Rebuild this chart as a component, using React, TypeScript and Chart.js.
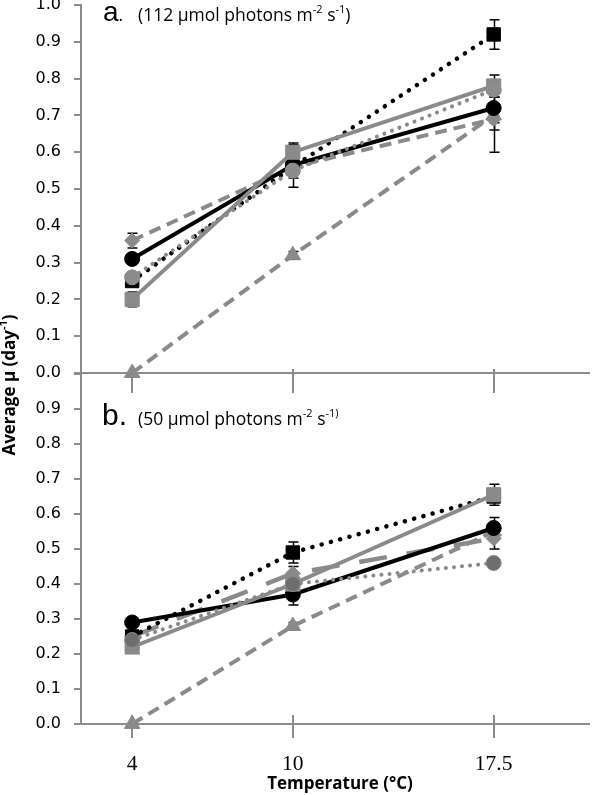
import React, { useEffect, useRef } from 'react';
import { Chart, registerables } from 'chart.js';

Chart.register(...registerables);

// ---------- data ----------
const temperatures = [4, 10, 17.5];
const temperatureLabels = ['4', '10', '17.5'];
const xMin = 2.09;
const xMax = 21.06;
const yMin = 0;
const yMax = 1.0;
const yStep = 0.1;

// panel a (112 µmol photons)
const aBlackCircle = [0.31, 0.565, 0.72];
const aBlackCircleErr = [0.01, 0.06, 0.06];
const aBlackSquare = [0.25, 0.56, 0.92];
const aBlackSquareErr = [0.015, 0.02, 0.04];
const aGraySquare = [0.2, 0.6, 0.78];
const aGraySquareErr = [0.02, 0.02, 0.03];
const aGrayCircle = [0.26, 0.55, 0.77];
const aGrayCircleErr = [0.01, 0.02, 0.02];
const aDiamond = [0.36, 0.56, 0.69];
const aDiamondErr = [0.02, 0.02, 0.09];
const aTriangle = [0.0, 0.32, 0.7];
const aTriangleErr = [0, 0.01, 0.02];

// panel b (50 µmol photons)
const bBlackCircle = [0.29, 0.37, 0.56];
const bBlackCircleErr = [0.01, 0.03, 0.03];
const bBlackSquare = [0.25, 0.49, 0.65];
const bBlackSquareErr = [0.01, 0.03, 0.01];
const bGraySquare = [0.22, 0.4, 0.655];
const bGraySquareErr = [0.01, 0.02, 0.03];
const bDiamond = [0.25, 0.43, 0.53];
const bDiamondErr = [0.01, 0.02, 0.03];
const bGrayCircle = [0.24, 0.4, 0.46];
const bGrayCircleErr = [0.01, 0.01, 0.01];
const bTriangle = [0.0, 0.28, 0.55];
const bTriangleErr = [0, 0.01, 0.01];

// texts
const panelALetter = 'a';
const panelAText = '(112 μmol photons m';
const panelBLetter = 'b';
const panelBText = '(50 μmol photons m';
const unitSup1 = '-2';
const unitMid = ' s';
const unitSup2 = '-1';
const yTitleMain = 'Average μ (day';
const yTitleSup = '-1';
const yTitleEnd = ')';
const xTitle = 'Temperature (°C)';

// ---------- styles ----------
const GRAY = '#8a8a8a';
const AXIS = '#8c8c8c';

function series(values: number[], errors: number[], style: any) {
  return {
    data: temperatures.map((t, i) => ({ x: t, y: values[i] })),
    errors,
    borderColor: style.color,
    borderWidth: style.width,
    borderDash: style.dash || [],
    borderCapStyle: style.cap || 'butt',
    pointStyle: style.point,
    pointRadius: style.radius,
    pointHoverRadius: style.radius,
    pointBackgroundColor: style.fill,
    pointBorderColor: style.pbColor || style.fill,
    pointBorderWidth: 1,
    tension: 0,
    fill: false,
    clip: false,
  };
}

const stBlackCircle = { color: '#000', width: 4, point: 'circle', radius: 7.5, fill: '#000' };
const stBlackSquare = { color: '#000', width: 4.5, dash: [0.1, 9.5], cap: 'round', point: 'rect', radius: 9.5, fill: '#000' };
const stGraySquare = { color: GRAY, width: 4, point: 'rect', radius: 10, fill: GRAY };
const stDiamondA = { color: GRAY, width: 4, dash: [12, 7], point: 'rectRot', radius: 7.5, fill: GRAY };
const stDiamondB = { color: GRAY, width: 4.5, dash: [28, 20], point: 'rectRot', radius: 7.5, fill: GRAY };
const stTriangle = { color: GRAY, width: 4, dash: [12, 7], point: 'triangle', radius: 9, fill: GRAY };
const stGrayCircleA = { color: GRAY, width: 4, dash: [0.1, 8], cap: 'round', point: 'circle', radius: 7.5, fill: '#8c8c8c' };
const stGrayCircleB = { color: GRAY, width: 4, dash: [0.1, 8], cap: 'round', point: 'circle', radius: 7.5, fill: '#6e6e6e', pbColor: '#8c8c8c' };

// ---------- plugins ----------
const errorBarPlugin = {
  id: 'errorBars',
  beforeDatasetsDraw(chart: any) {
    const { ctx } = chart;
    const xs = chart.scales.x;
    const ys = chart.scales.y;
    ctx.save();
    ctx.strokeStyle = '#000';
    ctx.lineWidth = 1.5;
    chart.data.datasets.forEach((ds: any) => {
      const errs = ds.errors;
      if (!errs) return;
      ds.data.forEach((p: any, i: number) => {
        const e = errs[i];
        if (!e) return;
        const x = Math.round(xs.getPixelForValue(p.x)) + 0.5;
        const y1 = ys.getPixelForValue(p.y - e);
        const y2 = ys.getPixelForValue(p.y + e);
        ctx.beginPath();
        ctx.moveTo(x, y1);
        ctx.lineTo(x, y2);
        ctx.moveTo(x - 5, y1);
        ctx.lineTo(x + 5, y1);
        ctx.moveTo(x - 5, y2);
        ctx.lineTo(x + 5, y2);
        ctx.stroke();
      });
    });
    ctx.restore();
  },
};

function crossTickPlugin(up: number, down: number) {
  return {
    id: 'crossTicks',
    beforeDatasetsDraw(chart: any) {
      const { ctx, chartArea } = chart;
      const xs = chart.scales.x;
      const y0 = chartArea.bottom + 1;
      ctx.save();
      ctx.strokeStyle = AXIS;
      ctx.lineWidth = 2;
      temperatures.forEach((t) => {
        const x = Math.round(xs.getPixelForValue(t));
        ctx.beginPath();
        ctx.moveTo(x, y0 - up);
        ctx.lineTo(x, y0 + down);
        ctx.stroke();
      });
      ctx.restore();
    },
  };
}

type Run = { text: string; size: number; family?: string; weight?: string; raise?: number; x?: number };

function drawRuns(ctx: CanvasRenderingContext2D, x: number, y: number, runs: Run[]) {
  let cx = x;
  for (const r of runs) {
    if (r.x !== undefined) cx = r.x;
    ctx.font = `${r.weight || 'normal'} ${r.size}px ${r.family || '"Open Sans"'}`;
    ctx.fillText(r.text, cx, y - (r.raise || 0));
    cx += ctx.measureText(r.text).width;
  }
}

function runsWidth(ctx: CanvasRenderingContext2D, runs: Run[]) {
  let w = 0;
  for (const r of runs) {
    ctx.font = `${r.weight || 'normal'} ${r.size}px ${r.family || '"Open Sans"'}`;
    w += ctx.measureText(r.text).width;
  }
  return w;
}

function annotatePlugin(draw: (ctx: CanvasRenderingContext2D, chart: any) => void) {
  return {
    id: 'annotate',
    afterDraw(chart: any) {
      const ctx = chart.ctx as CanvasRenderingContext2D;
      ctx.save();
      ctx.fillStyle = '#000';
      ctx.textBaseline = 'alphabetic';
      ctx.textAlign = 'left';
      draw(ctx, chart);
      ctx.restore();
    },
  };
}

function buildConfig(datasets: any[], o: any) {
  return {
    type: 'line',
    data: { datasets },
    options: {
      responsive: false,
      animation: false,
      devicePixelRatio: 1,
      events: [],
      layout: { padding: { top: o.padTop, bottom: o.padBottom, left: 0, right: 2 } },
      plugins: { legend: { display: false }, tooltip: { enabled: false }, title: { display: false } },
      scales: {
        x: {
          type: 'linear',
          min: xMin,
          max: xMax,
          afterBuildTicks: (s: any) => {
            s.ticks = temperatures.map((v) => ({ value: v }));
          },
          afterFit: (s: any) => {
            s.height = o.xHeight;
          },
          ticks: {
            display: o.showXLabels,
            autoSkip: false,
            maxRotation: 0,
            padding: 19,
            color: '#000',
            font: { family: '"Liberation Serif"', size: 21.5 },
            callback: (v: any) => {
              const i = temperatures.indexOf(Number(v));
              return i >= 0 ? temperatureLabels[i] : '';
            },
          },
          grid: { display: false },
          border: { display: true, color: AXIS, width: 2 },
        },
        y: {
          type: 'linear',
          min: yMin,
          max: yMax,
          afterFit: (s: any) => {
            s.width = 81;
          },
          ticks: {
            stepSize: yStep,
            padding: 13,
            color: '#000',
            font: { family: '"DejaVu Sans"', size: 16 },
            callback: o.yCallback,
          },
          grid: { display: true, drawOnChartArea: false, drawTicks: true, tickLength: 7, color: AXIS, lineWidth: 2 },
          border: { display: true, color: AXIS, width: 2 },
        },
      },
    },
    plugins: [errorBarPlugin, crossTickPlugin(o.tickUp, o.tickDown), annotatePlugin(o.annotate)],
  };
}

export default function App() {
  const topRef = useRef<HTMLCanvasElement>(null);
  const botRef = useRef<HTMLCanvasElement>(null);

  useEffect(() => {
    const topSets = [
      series(aGrayCircle, aGrayCircleErr, stGrayCircleA),
      series(aGraySquare, aGraySquareErr, stGraySquare),
      series(aBlackCircle, aBlackCircleErr, stBlackCircle),
      series(aBlackSquare, aBlackSquareErr, stBlackSquare),
      series(aDiamond, aDiamondErr, stDiamondA),
      series(aTriangle, aTriangleErr, stTriangle),
    ];
    const botSets = [
      series(bGrayCircle, bGrayCircleErr, stGrayCircleB),
      series(bGraySquare, bGraySquareErr, stGraySquare),
      series(bBlackCircle, bBlackCircleErr, stBlackCircle),
      series(bBlackSquare, bBlackSquareErr, stBlackSquare),
      series(bDiamond, bDiamondErr, stDiamondB),
      series(bTriangle, bTriangleErr, stTriangle),
    ];

    const c1 = new Chart(
      topRef.current as HTMLCanvasElement,
      buildConfig(topSets, {
        padTop: 25,
        padBottom: 27,
        xHeight: 0,
        showXLabels: false,
        tickUp: 5,
        tickDown: 19,
        yCallback: (v: any) => Number(v).toFixed(1),
        annotate: (ctx: CanvasRenderingContext2D) => {
          const y = 40.5;
          drawRuns(ctx, 103, y, [
            { text: panelALetter, size: 28, family: '"Liberation Sans"' },
            { text: '.', size: 17.5 },
          ]);
          drawRuns(ctx, 138, y, [
            { text: panelAText, size: 17.5 },
            { text: unitSup1, size: 11, raise: 8 },
            { text: unitMid, size: 17.5 },
            { text: unitSup2, size: 11, raise: 8 },
            { text: ')', size: 17.5 },
          ]);
        },
      }) as any
    );

    const c2 = new Chart(
      botRef.current as HTMLCanvasElement,
      buildConfig(botSets, {
        padTop: 74,
        padBottom: 0,
        xHeight: 71,
        showXLabels: true,
        tickUp: 10,
        tickDown: 13,
        yCallback: (v: any) => (Math.abs(Number(v) - yMax) < 1e-9 ? '' : Number(v).toFixed(1)),
        annotate: (ctx: CanvasRenderingContext2D) => {
          const y = 125;
          drawRuns(ctx, 102, y, [
            { text: panelBLetter, size: 30, family: '"Liberation Sans"' },
            { text: '.', size: 30, family: '"Liberation Sans"' },
          ]);
          drawRuns(ctx, 138, y, [
            { text: panelBText, size: 17.5 },
            { text: unitSup1, size: 11, raise: 8 },
            { text: unitMid, size: 17.5 },
            { text: unitSup2 + ')', size: 11, raise: 8 },
          ]);
          // x-axis title
          const xr: Run[] = [{ text: xTitle, size: 17, weight: 'bold' }];
          const xw = runsWidth(ctx, xr);
          drawRuns(ctx, 340 - xw / 2, 489, xr);
          // y-axis title (rotated)
          const yr: Run[] = [
            { text: yTitleMain, size: 17, weight: 'bold' },
            { text: yTitleSup, size: 11, weight: 'bold', raise: 8 },
            { text: yTitleEnd, size: 17, weight: 'bold' },
          ];
          const yw = runsWidth(ctx, yr);
          ctx.save();
          ctx.translate(15, 85);
          ctx.rotate(-Math.PI / 2);
          drawRuns(ctx, -yw / 2, 0, yr);
          ctx.restore();
        },
      }) as any
    );

    return () => {
      c1.destroy();
      c2.destroy();
    };
  }, []);

  return (
    <div style={{ position: 'absolute', left: 0, top: 0, width: 600, height: 795, overflow: 'hidden', background: '#fff' }}>
      <canvas
        ref={botRef}
        width={600}
        height={495}
        style={{ position: 'absolute', left: 0, top: 300, width: 600, height: 495 }}
      />
      <canvas
        ref={topRef}
        width={600}
        height={420}
        style={{ position: 'absolute', left: 0, top: -20, width: 600, height: 420 }}
      />
    </div>
  );
}
